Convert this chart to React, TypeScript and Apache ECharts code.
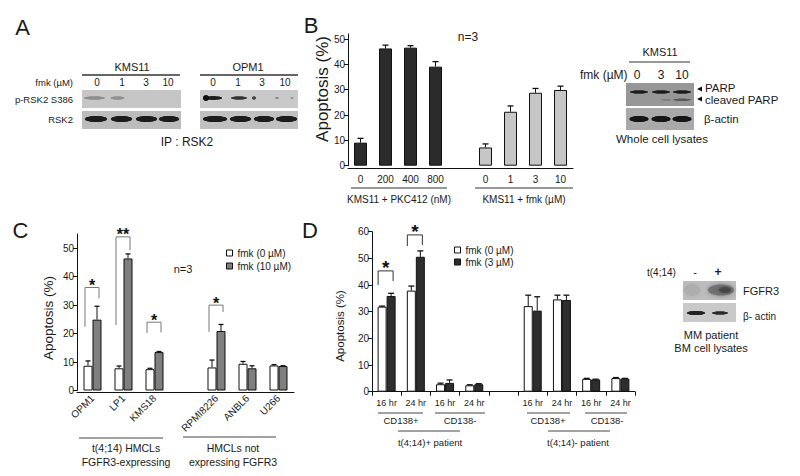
import React, { useEffect, useRef } from 'react';
import * as echarts from 'echarts';

const FONT = '"Liberation Sans", Arial, Helvetica, sans-serif';

// ---------- Panel A (western blot lane labels) ----------
const aLanes = ['0', '1', '3', '10'];

// ---------- Panel B ----------
const bCategories = ['0', '200', '400', '800', '', '0', '1', '3', '10'];
const bValues = [9.1, 46.3, 46.6, 39.1, null, 7.2, 21.3, 28.8, 29.9];
const bErrors = [1.7, 1.3, 0.8, 2.0, null, 1.4, 2.3, 1.7, 1.5];
const bParpLanes = ['0', '3', '10'];

// ---------- Panel C ----------
const cCategories = ['OPM1', 'LP1', 'KMS18', '', 'RPMI8226', 'ANBL6', 'U266'];
const cFmk0 = [8.7, 7.8, 7.5, null, 8.1, 9.4, 8.8];
const cFmk0Err = [1.7, 0.8, 0.3, null, 2.6, 0.8, 0.3];
const cFmk10 = [24.9, 46.4, 13.5, null, 20.9, 7.8, 8.6];
const cFmk10Err = [4.7, 1.6, 0.2, null, 2.3, 0.9, 0.1];
const cSigCats = [0, 1, 2, 4];
const cSigLeft = [22.4, 23.0, 20.2, 20.6];
const cSigRight = [32.4, 49.3, 20.4, 27.6];
const cSigTop = [36.2, 54.0, 24.0, 30.0];
const cSigMarks = ['*', '**', '*', '*'];

// ---------- Panel D ----------
const dCategories = ['16 hr', '24 hr', '16 hr', '24 hr', '', '16 hr', '24 hr', '16 hr', '24 hr'];
const dFmk0 = [31.9, 37.9, 2.8, 2.4, null, 32.1, 34.6, 4.8, 5.1];
const dFmk0Err = [0.2, 1.7, 0.4, 0.2, null, 4.1, 1.6, 0.2, 0.2];
const dFmk3 = [35.9, 50.6, 3.3, 2.8, null, 30.4, 34.4, 4.6, 4.9];
const dFmk3Err = [1.0, 2.2, 1.1, 0.2, null, 5.2, 1.8, 0.1, 0.1];
const dSigCats = [0, 1];
const dSigLeft = [40.0, 54.6];
const dSigRight = [41.5, 55.0];
const dSigTop = [45.3, 58.8];
const dSigMarks = ['*', '*'];

const TXT = '#1a1a1a';

const txt = (x: number, y: number, text: string, size: number, align = 'center', extra: any = {}) => ({
  type: 'text',
  x,
  y,
  silent: true,
  style: { text, fontSize: size, fontFamily: FONT, fill: TXT, align, verticalAlign: 'middle', ...extra },
});
const ln = (x1: number, y1: number, x2: number, y2: number, w = 1, c = '#333') => ({
  type: 'line',
  silent: true,
  shape: { x1, y1, x2, y2 },
  style: { stroke: c, lineWidth: w },
});
const rect = (x: number, y: number, w: number, h: number, fill: string) => ({
  type: 'rect',
  silent: true,
  shape: { x, y, width: w, height: h },
  style: { fill },
});
const band = (cx: number, cy: number, w: number, h: number, fill: string, blur = 1.5, opacity = 1) => ({
  type: 'ellipse',
  silent: true,
  shape: { cx, cy, rx: w / 2, ry: h / 2 },
  style: { fill, shadowBlur: blur, shadowColor: fill, opacity },
});

const errData = (vals: (number | null)[], errs: (number | null)[]) =>
  vals.map((v, i) => (v == null ? null : [i, v, errs[i] as number])).filter((d) => d !== null);

const sigData = (cats: number[], left: number[], right: number[], top: number[]) =>
  cats.map((c, i) => [c, left[i], right[i], top[i]]);

const errRender = (offset: number, cap: number) => (params: any, api: any) => {
  const i = api.value(0);
  const v = api.value(1);
  const e = api.value(2);
  const p0 = api.coord([i, v]);
  const p1 = api.coord([i, v + e]);
  const x = p0[0] + offset;
  return {
    type: 'group',
    children: [
      { type: 'line', shape: { x1: x, y1: p0[1], x2: x, y2: p1[1] }, style: { stroke: '#111', lineWidth: 1 } },
      { type: 'line', shape: { x1: x - cap, y1: p1[1], x2: x + cap, y2: p1[1] }, style: { stroke: '#111', lineWidth: 1.3 } },
    ],
  };
};

const sigRender =
  (marks: string[], dxL: number, dxR: number, fontSize: number, lift: number, color: string) =>
  (params: any, api: any) => {
    const i = api.value(0);
    const l = api.coord([i, api.value(1)]);
    const r = api.coord([i, api.value(2)]);
    const t = api.coord([i, api.value(3)]);
    return {
      type: 'group',
      children: [
        {
          type: 'polyline',
          shape: {
            points: [
              [t[0] - dxL, l[1]],
              [t[0] - dxL, t[1]],
              [t[0] + dxR, t[1]],
              [t[0] + dxR, r[1]],
            ],
          },
          style: { stroke: color, lineWidth: 1, fill: 'none' },
        },
        {
          type: 'text',
          x: t[0] - (dxL - dxR) / 2,
          y: t[1] - lift,
          style: {
            text: marks[params.dataIndex],
            fontSize,
            fontWeight: 'bold',
            fontFamily: FONT,
            fill: '#111',
            align: 'center',
            verticalAlign: 'middle',
          },
        },
      ],
    };
  };

const yAxisBase = (gridIndex: number, max: number, ticks: number[]) => ({
  gridIndex,
  type: 'value',
  min: 0,
  max,
  interval: 10,
  splitLine: { show: false },
  axisLine: { show: true, lineStyle: { color: '#111', width: 1 } },
  axisTick: { show: true, length: 4, customValues: ticks, lineStyle: { color: '#111', width: 1 } },
  axisLabel: { customValues: ticks, fontSize: 10, color: TXT, margin: 3, fontFamily: FONT },
});

function buildGraphic() {
  const els: any[] = [];
  // ---- Panel letters ----
  els.push(txt(22.5, 27.5, 'A', 22));
  els.push(txt(311, 25.5, 'B', 22));
  els.push(txt(20.5, 230, 'C', 22));
  els.push(txt(310, 230.5, 'D', 22));

  // ---- Panel A ----
  els.push(txt(132, 67, 'KMS11', 11));
  els.push(ln(82, 75, 180, 75, 1.5));
  els.push(txt(248, 67, 'OPM1', 11));
  els.push(ln(200, 75, 298, 75, 1.5));
  els.push(txt(73, 82, 'fmk (µM)', 9.5, 'right'));
  const kX = [97, 122, 146, 168];
  const oX = [213, 238, 262, 285];
  aLanes.forEach((l, i) => {
    els.push(txt(kX[i], 82, l, 10));
    els.push(txt(oX[i], 82, l, 10));
  });
  els.push(rect(82, 90, 99, 18, '#c6c6c6'));
  els.push(rect(82, 111, 99, 18, '#bcbcbc'));
  els.push(rect(200, 90, 98, 18, '#c9c9c9'));
  els.push(rect(200, 111, 98, 18, '#c0c0c0'));
  // p-RSK2 KMS11 (faint)
  els.push(band(94.5, 98, 21, 3, '#8c8c8c', 1.5));
  els.push(band(117.5, 98, 14, 3, '#909090', 1.5));
  // RSK2 KMS11
  [[96, 22], [121.5, 21], [146.5, 21], [169, 20]].forEach(([cx, w]) => els.push(band(cx, 119, w, 6, '#1c1c1c', 1.5)));
  // p-RSK2 OPM1
  els.push(band(213, 98, 18, 3.5, '#1a1a1a', 1.2));
  els.push(band(206, 98, 6, 5.5, '#111', 1));
  els.push(band(239, 98, 16, 3, '#333', 1.2));
  els.push(band(254, 98, 4, 3, '#444', 1));
  els.push(band(277, 98, 3, 2, '#888', 1));
  els.push(band(292, 98, 3, 2, '#999', 1));
  // RSK2 OPM1
  [[215, 24], [240.5, 21], [264, 20], [286.5, 21]].forEach(([cx, w]) => els.push(band(cx, 119, w, 6, '#1a1a1a', 1.5)));
  els.push(txt(73, 99, 'p-RSK2 S386', 9.5, 'right'));
  els.push(txt(73, 119, 'RSK2', 9.5, 'right'));
  els.push(txt(187, 142, 'IP : RSK2', 12));

  // ---- Panel B ----
  const bTitle: any = txt(322, 89, 'Apoptosis (%)', 17);
  bTitle.rotation = Math.PI / 2;
  els.push(bTitle);
  els.push(txt(468, 37, 'n=3', 12));
  els.push(ln(351, 188, 447, 188, 1, '#333'));
  els.push(ln(475, 188, 573, 188, 1, '#333'));
  els.push(txt(399, 199, 'KMS11 + PKC412 (nM)', 10));
  els.push(txt(524, 199, 'KMS11 + fmk (µM)', 10));
  // PARP blot
  els.push(txt(660, 52, 'KMS11', 11));
  els.push(ln(629, 62, 690, 62, 1.2));
  els.push(txt(580, 75, 'fmk (µM)', 12, 'left'));
  const pX = [637, 661, 682];
  bParpLanes.forEach((l, i) => els.push(txt(pX[i], 75, l, 12)));
  els.push(rect(626, 83, 68, 23, '#979797'));
  els.push(rect(626, 108, 68, 22, '#a9a9a9'));
  [639, 661, 682].forEach((cx) => els.push(band(cx, 92, 18, 3, '#1e1e1e', 1)));
  els.push(band(682, 99.7, 17, 2, '#555', 1));
  els.push(band(666, 99.7, 10, 1.5, '#7c7c7c', 1));
  [639, 661, 682].forEach((cx) => els.push(band(cx, 119, 19, 6, '#151515', 1.5)));
  els.push({ type: 'polygon', silent: true, shape: { points: [[697, 89], [702, 86.5], [702, 91.5]] }, style: { fill: '#111' } });
  els.push({ type: 'polygon', silent: true, shape: { points: [[697, 99], [702, 96.5], [702, 101.5]] }, style: { fill: '#111' } });
  els.push(txt(705, 88, 'PARP', 11.5, 'left'));
  els.push(txt(705, 100, 'cleaved PARP', 11.5, 'left'));
  els.push(txt(704, 119, 'β-actin', 11.5, 'left'));
  els.push(txt(662, 139, 'Whole cell lysates', 11.5));

  // ---- Panel C ----
  const cTitle: any = txt(48, 318, 'Apoptosis (%)', 13.5);
  cTitle.rotation = Math.PI / 2;
  els.push(cTitle);
  els.push(txt(183, 269, 'n=3', 11));
  els.push(ln(79, 438, 163, 438, 1, '#444'));
  els.push(ln(183, 437, 276, 437, 1, '#444'));
  els.push(txt(126, 448, 't(4;14) HMCLs', 10.5));
  els.push(txt(126, 462, 'FGFR3-expressing', 10.5));
  els.push(txt(233, 448, 'HMCLs not', 10.5));
  els.push(txt(233, 462, 'expressing FGFR3', 10.5));

  // ---- Panel D ----
  const dTitle: any = txt(340, 326, 'Apoptosis (%)', 11.5);
  dTitle.rotation = Math.PI / 2;
  els.push(dTitle);
  els.push(ln(378, 413, 423, 413, 1, '#444'));
  els.push(ln(435, 413, 485, 413, 1, '#444'));
  els.push(ln(527, 413, 570, 413, 1, '#444'));
  els.push(ln(585, 413, 627, 413, 1, '#444'));
  els.push(txt(401, 420, 'CD138+', 9.5));
  els.push(txt(460, 420, 'CD138-', 9.5));
  els.push(txt(548, 420, 'CD138+', 9.5));
  els.push(txt(607, 420, 'CD138-', 9.5));
  els.push(ln(398, 431, 460, 431, 1, '#444'));
  els.push(ln(548, 431, 610, 431, 1, '#444'));
  els.push(txt(430, 442, 't(4;14)+ patient', 9.5));
  els.push(txt(578, 442, 't(4;14)- patient', 9.5));
  // FGFR3 blot
  els.push(txt(647, 272, 't(4;14)', 10, 'left'));
  els.push(txt(695, 272, '-', 11));
  els.push(txt(718, 272, '+', 12, 'center', { fontWeight: 'bold' }));
  els.push(rect(683, 281, 53, 19, '#bdbdbd'));
  els.push(band(692, 290, 16, 12, '#acacac', 4, 0.8));
  els.push(band(721, 290, 26, 11, '#6a6a6a', 4, 0.8));
  els.push(band(725, 290, 12, 6, '#3c3c3c', 3, 0.6));
  els.push(rect(683, 303, 53, 19, '#c9c9c9'));
  els.push(band(696, 313, 18, 4, '#222', 1.2));
  els.push(band(720, 313, 16, 3, '#2a2a2a', 1.2));
  els.push(txt(743, 291, 'FGFR3', 11, 'left'));
  els.push(txt(743, 316, 'β- actin', 10, 'left'));
  els.push(txt(711, 335, 'MM patient', 11));
  els.push(txt(711, 348, 'BM cell lysates', 11));
  return els;
}

export default function App() {
  const ref = useRef<HTMLDivElement>(null);
  useEffect(() => {
    if (!ref.current) return;
    const chart = echarts.init(ref.current, null, { renderer: 'svg', width: 800, height: 476 });
    const barBorder = { borderColor: '#111', borderWidth: 1 };
    const option: any = {
      animation: false,
      backgroundColor: '#fff',
      textStyle: { fontFamily: FONT, color: TXT },
      grid: [
        { left: 348, top: 34, width: 225, height: 131.7 },
        { left: 77, top: 234, width: 217, height: 156.5 },
        { left: 372, top: 231.7, width: 263, height: 160 },
      ],
      xAxis: [
        {
          gridIndex: 0,
          type: 'category',
          data: bCategories,
          offset: 3,
          axisLine: { onZero: false, lineStyle: { color: '#111' } },
          axisTick: { show: false },
          axisLabel: { interval: 0, fontSize: 10, color: TXT, margin: 6 },
        },
        {
          gridIndex: 1,
          type: 'category',
          data: cCategories,
          offset: 2,
          axisLine: { onZero: false, lineStyle: { color: '#111' } },
          axisTick: { show: false },
          axisLabel: { interval: 0, fontSize: 10, color: TXT, rotate: 45, margin: 4 },
        },
        {
          gridIndex: 2,
          type: 'category',
          data: dCategories,
          axisLine: { onZero: false, lineStyle: { color: '#111' } },
          axisTick: { show: true, length: 4, interval: 0, lineStyle: { color: '#111' } },
          axisLabel: { interval: 0, fontSize: 9, color: TXT, margin: 7 },
        },
      ],
      yAxis: [
        yAxisBase(0, 52, [0, 10, 20, 30, 40, 50]),
        yAxisBase(1, 55, [0, 10, 20, 30, 40, 50]),
        yAxisBase(2, 60, [0, 10, 20, 30, 40, 50, 60]),
      ],
      legend: [
        {
          data: ['fmk (0 µM)', 'fmk (10 µM)'],
          orient: 'vertical',
          left: 226,
          top: 248,
          itemWidth: 6,
          itemHeight: 6,
          itemGap: 3,
          icon: 'rect',
          selectedMode: false,
          padding: 0,
          itemStyle: { borderColor: '#111', borderWidth: 1 },
          textStyle: { fontSize: 10, color: TXT, fontFamily: FONT },
        },
        {
          data: ['fmk (0 µM)', 'fmk (3 µM)'],
          orient: 'vertical',
          left: 454,
          top: 245,
          itemWidth: 6,
          itemHeight: 6,
          itemGap: 2,
          icon: 'rect',
          selectedMode: false,
          padding: 0,
          itemStyle: { borderColor: '#111', borderWidth: 1 },
          textStyle: { fontSize: 10, color: TXT, fontFamily: FONT },
        },
      ],
      series: [
        // Panel B
        {
          type: 'bar',
          name: 'B apoptosis',
          xAxisIndex: 0,
          yAxisIndex: 0,
          barWidth: 13,
          itemStyle: barBorder,
          data: bValues.map((v, i) =>
            v == null ? '-' : { value: v, itemStyle: { color: i < 4 ? '#2b2b2b' : '#c6c6c6' } }
          ),
        },
        {
          type: 'custom',
          name: 'B err',
          xAxisIndex: 0,
          yAxisIndex: 0,
          z: 3,
          renderItem: errRender(0, 3),
          data: errData(bValues, bErrors),
        },
        // Panel C
        {
          type: 'bar',
          name: 'fmk (0 µM)',
          xAxisIndex: 1,
          yAxisIndex: 1,
          barWidth: 9,
          barGap: '0%',
          itemStyle: { color: '#ffffff', ...barBorder },
          data: cFmk0.map((v) => (v == null ? '-' : v)),
        },
        {
          type: 'bar',
          name: 'fmk (10 µM)',
          xAxisIndex: 1,
          yAxisIndex: 1,
          barWidth: 9,
          barGap: '0%',
          itemStyle: { color: '#7f7f7f', ...barBorder },
          data: cFmk10.map((v) => (v == null ? '-' : v)),
        },
        {
          type: 'custom',
          name: 'C err0',
          xAxisIndex: 1,
          yAxisIndex: 1,
          z: 3,
          renderItem: errRender(-4.5, 2.5),
          data: errData(cFmk0, cFmk0Err),
        },
        {
          type: 'custom',
          name: 'C err10',
          xAxisIndex: 1,
          yAxisIndex: 1,
          z: 3,
          renderItem: errRender(4.5, 2.5),
          data: errData(cFmk10, cFmk10Err),
        },
        {
          type: 'custom',
          name: 'C sig',
          xAxisIndex: 1,
          yAxisIndex: 1,
          z: 3,
          renderItem: sigRender(cSigMarks, 7.5, 6.5, 16, 2, '#777'),
          data: sigData(cSigCats, cSigLeft, cSigRight, cSigTop),
        },
        // Panel D
        {
          type: 'bar',
          name: 'fmk (0 µM)',
          xAxisIndex: 2,
          yAxisIndex: 2,
          barWidth: 9,
          barGap: '0%',
          itemStyle: { color: '#ffffff', ...barBorder },
          data: dFmk0.map((v) => (v == null ? '-' : v)),
        },
        {
          type: 'bar',
          name: 'fmk (3 µM)',
          xAxisIndex: 2,
          yAxisIndex: 2,
          barWidth: 9,
          barGap: '0%',
          itemStyle: { color: '#2e2e2e', ...barBorder },
          data: dFmk3.map((v) => (v == null ? '-' : v)),
        },
        {
          type: 'custom',
          name: 'D err0',
          xAxisIndex: 2,
          yAxisIndex: 2,
          z: 3,
          renderItem: errRender(-4.5, 3),
          data: errData(dFmk0, dFmk0Err),
        },
        {
          type: 'custom',
          name: 'D err3',
          xAxisIndex: 2,
          yAxisIndex: 2,
          z: 3,
          renderItem: errRender(4.5, 3),
          data: errData(dFmk3, dFmk3Err),
        },
        {
          type: 'custom',
          name: 'D sig',
          xAxisIndex: 2,
          yAxisIndex: 2,
          z: 3,
          renderItem: sigRender(dSigMarks, 8.5, 6.5, 19, 3.5, '#333'),
          data: sigData(dSigCats, dSigLeft, dSigRight, dSigTop),
        },
      ],
      graphic: { elements: buildGraphic() },
    };
    chart.setOption(option);
    return () => chart.dispose();
  }, []);
  return (
    <div
      ref={ref}
      style={{ position: 'fixed', left: 0, top: 0, width: 800, height: 476, background: '#fff' }}
    />
  );
}
